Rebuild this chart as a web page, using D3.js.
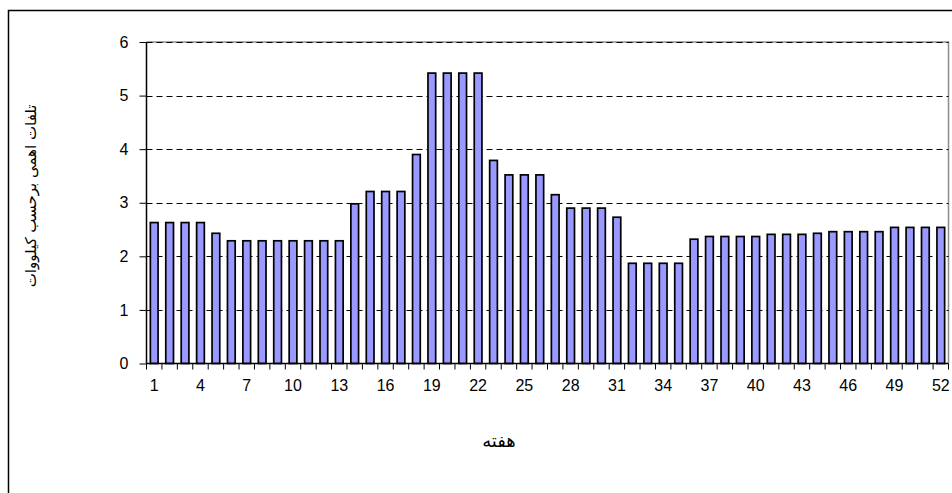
<!DOCTYPE html>
<html>
<head>
<meta charset="utf-8">
<script src="https://cdn.jsdelivr.net/npm/d3@7/dist/d3.min.js"></script>
<style>
  html, body { margin: 0; padding: 0; background: #fff; }
  svg { display: block; }
  text { font-family: "Liberation Sans", Arial, sans-serif; fill: #000; }
</style>
</head>
<body>
<svg id="chart" width="952" height="493"></svg>
<script>
// Weekly ohmic losses (kW), weeks 1..52
const weeks = d3.range(1, 53);
const losses = [
  2.63, 2.63, 2.63, 2.63, 2.43, 2.29, 2.29, 2.29, 2.29, 2.29,
  2.29, 2.29, 2.29, 2.98, 3.21, 3.21, 3.21, 3.90, 5.42, 5.42,
  5.42, 5.42, 3.79, 3.52, 3.52, 3.52, 3.15, 2.90, 2.90, 2.90,
  2.73, 1.87, 1.87, 1.87, 1.87, 2.32, 2.37, 2.37, 2.37, 2.37,
  2.41, 2.41, 2.41, 2.43, 2.46, 2.46, 2.46, 2.46, 2.54, 2.54,
  2.54, 2.54
];
const yTicks = [0, 1, 2, 3, 4, 5, 6];
const xTickLabels = [1, 4, 7, 10, 13, 16, 19, 22, 25, 28, 31, 34, 37, 40, 43, 46, 49, 52];
const xTitle = "هفته";
const yTitle = "تلفات اهمی برحسب کیلووات";

const svg = d3.select("#chart");
const plot = { left: 146.5, right: 948.5, top: 42, bottom: 363.5 };

// Outer chart frame
svg.append("rect")
  .attr("x", 8.5).attr("y", 10.5)
  .attr("width", 960).attr("height", 500)
  .attr("fill", "#fff").attr("stroke", "#000").attr("stroke-width", 1.5);

const xBand = d3.scaleBand().domain(weeks).range([plot.left, plot.right]);
const y = d3.scaleLinear().domain([0, 6]).range([plot.bottom, plot.top]);

// Plot area border (top and right)
svg.append("path")
  .attr("d", `M${plot.left},${plot.top}H${plot.right}V${plot.bottom}`)
  .attr("fill", "none").attr("stroke", "#8c8c8c").attr("stroke-width", 1.5);

// Dashed gridlines
svg.append("g")
  .selectAll("line")
  .data(yTicks.filter(d => d > 0))
  .join("line")
  .attr("x1", plot.left).attr("x2", plot.right)
  .attr("y1", d => Math.round(y(d)) + 0.5).attr("y2", d => Math.round(y(d)) + 0.5)
  .attr("stroke", "#000").attr("stroke-width", 1)
  .attr("stroke-dasharray", "6,4");

// Bars
svg.append("g")
  .selectAll("rect")
  .data(weeks)
  .join("rect")
  .attr("x", d => xBand(d) + xBand.bandwidth() * 0.25)
  .attr("width", xBand.bandwidth() * 0.5)
  .attr("y", (d, i) => y(losses[i]))
  .attr("height", (d, i) => y(0) - y(losses[i]))
  .attr("fill", "#9999ff")
  .attr("stroke", "#000")
  .attr("stroke-width", 1.7);

// Y axis
const yAxis = d3.axisLeft(y).tickValues(yTicks).tickSize(7).tickPadding(11).tickFormat(d3.format("d"));
const gy = svg.append("g").attr("transform", `translate(${plot.left},0)`).call(yAxis);
gy.select(".domain").attr("stroke", "#000").attr("stroke-width", 1.5).attr("d", `M0,${plot.top}V${plot.bottom}`);
gy.selectAll(".tick line").attr("stroke", "#000");
gy.selectAll(".tick text").style("font-size", "16px").attr("font-family", null);

// X axis: tick marks at week boundaries, labels every third week
const gx = svg.append("g").attr("transform", `translate(0,${plot.bottom})`);
gx.append("line")
  .attr("x1", plot.left).attr("x2", plot.right)
  .attr("stroke", "#000").attr("stroke-width", 1.5);
const boundaries = weeks.map(w => xBand(w)).concat([plot.right]);
gx.selectAll("line.tk")
  .data(boundaries)
  .join("line")
  .attr("class", "tk")
  .attr("x1", d => d).attr("x2", d => d)
  .attr("y1", 0).attr("y2", 6)
  .attr("stroke", "#000").attr("stroke-width", 1);
gx.selectAll("text.lbl")
  .data(xTickLabels)
  .join("text")
  .attr("class", "lbl")
  .attr("x", d => xBand(d) + xBand.bandwidth() / 2)
  .attr("y", 27)
  .attr("text-anchor", "middle")
  .style("font-size", "16px")
  .text(d => d);

// Axis titles
svg.append("text")
  .attr("x", 499).attr("y", 447)
  .attr("text-anchor", "middle")
  .attr("direction", "rtl")
  .style("font-family", "'DejaVu Sans', sans-serif")
  .style("font-size", "18px")
  .text(xTitle);

svg.append("text")
  .attr("transform", "translate(36,196) rotate(-90)")
  .attr("text-anchor", "middle")
  .attr("direction", "rtl")
  .style("font-family", "'DejaVu Sans', sans-serif")
  .style("font-size", "15px")
  .text(yTitle);
</script>
</body>
</html>
